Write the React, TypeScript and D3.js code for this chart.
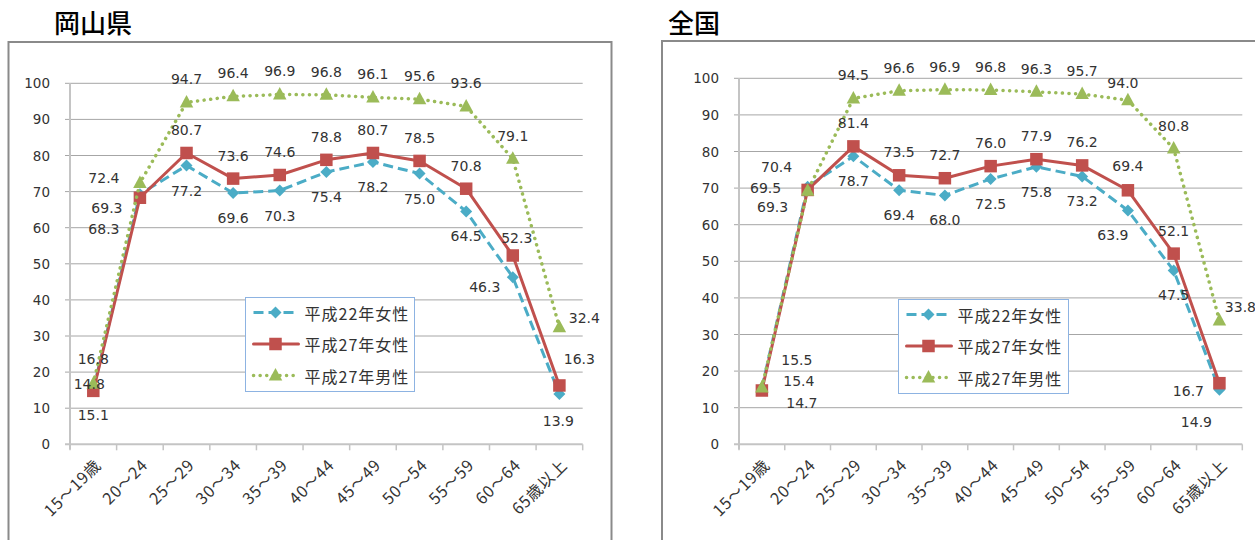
import React from "react";
import * as d3 from "d3";

// Age groups along the x axis
const categories = [
  "15～19歳", "20～24", "25～29", "30～34", "35～39", "40～44",
  "45～49", "50～54", "55～59", "60～64", "65歳以上",
];

// Labour force participation rate (%), 岡山県
const okayamaF22 = [15.1, 69.3, 77.2, 69.6, 70.3, 75.4, 78.2, 75.0, 64.5, 46.3, 13.9];
const okayamaF27 = [14.8, 68.3, 80.7, 73.6, 74.6, 78.8, 80.7, 78.5, 70.8, 52.3, 16.3];
const okayamaM27 = [16.8, 72.4, 94.7, 96.4, 96.9, 96.8, 96.1, 95.6, 93.6, 79.1, 32.4];

// Labour force participation rate (%), 全国
const zenkokuF22 = [15.4, 70.4, 78.7, 69.4, 68.0, 72.5, 75.8, 73.2, 63.9, 47.5, 14.9];
const zenkokuF27 = [14.7, 69.5, 81.4, 73.5, 72.7, 76.0, 77.9, 76.2, 69.4, 52.1, 16.7];
const zenkokuM27 = [15.5, 69.3, 94.5, 96.6, 96.9, 96.8, 96.3, 95.7, 94.0, 80.8, 33.8];

const seriesNames = ["平成22年女性", "平成27年女性", "平成27年男性"];
const yTicks = [0, 10, 20, 30, 40, 50, 60, 70, 80, 90, 100];

const FONT = "'Noto Sans CJK JP', 'Noto Sans', sans-serif";
const NUM_FONT = "'DejaVu Sans', 'Noto Sans CJK JP', sans-serif";
const TEXT = "#333333";

type Style = { color: string; dash: string; cap: "butt" | "round"; width: number; marker: "diamond" | "square" | "triangle" };
const styles: Style[] = [
  { color: "#4bacc6", dash: "10 5", cap: "butt", width: 3, marker: "diamond" },
  { color: "#c0504d", dash: "", cap: "round", width: 3, marker: "square" },
  { color: "#9bbb59", dash: "0.1 6.5", cap: "round", width: 3.5, marker: "triangle" },
];

// Default label offset (text centre relative to point) per series
const defaultOffsets: [number, number][] = [[0, 25], [0, -23], [0, -23]];

type Panel = {
  title: string;
  titleX: number;
  series: number[][];
  frame: { x: number; y: number; w: number; h: number };
  plot: { x0: number; x1: number; yTop: number; yBottom: number };
  legend: { x: number; y: number; w: number; h: number };
  overrides: Record<string, [number, number]>;
};

const panels: Panel[] = [
  {
    title: "岡山県",
    titleX: 54,
    series: [okayamaF22, okayamaF27, okayamaM27],
    frame: { x: 8.5, y: 42, w: 603, h: 520 },
    plot: { x0: 70, x1: 582.7, yTop: 83.3, yBottom: 444.3 },
    legend: { x: 245.5, y: 297.5, w: 169, h: 94 },
    overrides: {
      "0-0": [0, 25], "1-0": [-4, -7], "2-0": [0, -25],
      "0-1": [-33, 14], "1-1": [-36, 31], "2-1": [-36, -5],
      "0-9": [-28, 10], "1-9": [4, -17],
      "0-10": [-1, 27], "1-10": [20, -26], "2-10": [25, -9],
    },
  },
  {
    title: "全国",
    titleX: 668,
    series: [zenkokuF22, zenkokuF27, zenkokuM27],
    frame: { x: 662, y: 41, w: 620, h: 520 },
    plot: { x0: 739, x1: 1242.3, yTop: 78.3, yBottom: 444.3 },
    legend: { x: 898.5, y: 299.5, w: 170, h: 94 },
    overrides: {
      "0-0": [37, -7], "1-0": [40, 13], "2-0": [35, -28],
      "0-1": [-31, -20], "1-1": [-42, -2], "2-1": [-35, 16],
      "0-8": [-15, 25], "1-8": [0, -24], "2-8": [-5, -17],
      "0-10": [-23, 32], "1-10": [-31, 8], "2-10": [21, -14],
    },
  },
];

function Marker({ kind, x, y, color }: { kind: Style["marker"]; x: number; y: number; color: string }) {
  if (kind === "diamond") {
    const r = 6;
    return <path d={`M${x},${y - r}L${x + r},${y}L${x},${y + r}L${x - r},${y}Z`} fill={color} />;
  }
  if (kind === "square") {
    const s = 12.5;
    return <rect x={x - s / 2} y={y - s / 2} width={s} height={s} fill={color} />;
  }
  const h = 12.5, w = 13.5;
  return <path d={`M${x},${y - h * 0.6}L${x + w / 2},${y + h * 0.4}L${x - w / 2},${y + h * 0.4}Z`} fill={color} />;
}

function ChartPanel({ p }: { p: Panel }) {
  const x = d3.scaleBand<string>().domain(categories).range([p.plot.x0, p.plot.x1]);
  const y = d3.scaleLinear().domain([0, 100]).range([p.plot.yBottom, p.plot.yTop]);
  const cx = (c: string) => (x(c) ?? 0) + x.bandwidth() / 2;
  const line = d3.line<number>().x((_, i) => cx(categories[i])).y((v) => y(v));
  const boundaries = [...categories.map((c) => x(c) ?? 0), p.plot.x1];
  const { frame, legend } = p;

  return (
    <g>
      <text x={p.titleX} y={33} fontFamily={FONT} fontSize={26} fontWeight={500} fill="#000">{p.title}</text>
      <rect x={frame.x} y={frame.y} width={frame.w} height={frame.h} fill="#fff" stroke="#8a8a8a" strokeWidth={2} />

      {/* gridlines and y tick labels */}
      {yTicks.map((t) => (
        <g key={t}>
          {t > 0 && (
            <line x1={p.plot.x0 - 5} x2={p.plot.x1} y1={y(t)} y2={y(t)} stroke="#a6a6a6" strokeWidth={1} />
          )}
          <text x={p.plot.x0 - 20} y={y(t)} textAnchor="end" dominantBaseline="central"
            fontFamily={NUM_FONT} fontSize={13.5} fill={TEXT}>{t}</text>
        </g>
      ))}

      {/* axes */}
      <line x1={p.plot.x0} x2={p.plot.x0} y1={p.plot.yTop} y2={p.plot.yBottom + 5} stroke="#c4c4c4" strokeWidth={2} />
      <line x1={p.plot.x0 - 5} x2={p.plot.x1} y1={p.plot.yBottom} y2={p.plot.yBottom} stroke="#c4c4c4" strokeWidth={2} />
      {boundaries.map((bx, i) => (
        <line key={i} x1={bx} x2={bx} y1={p.plot.yBottom} y2={p.plot.yBottom + 6} stroke="#c4c4c4" strokeWidth={1.5} />
      ))}
      {categories.map((c) => (
        <text key={c} transform={`translate(${cx(c) + 4},${p.plot.yBottom + 17}) rotate(-45)`}
          textAnchor="end" dominantBaseline="central" fontFamily={FONT} fontSize={16} letterSpacing={0.8}
          fill={TEXT}>{c}</text>
      ))}

      {/* series lines and markers */}
      {p.series.map((vals, si) => (
        <g key={si}>
          <path d={line(vals) ?? ""} fill="none" stroke={styles[si].color} strokeWidth={styles[si].width}
            strokeDasharray={styles[si].dash} strokeLinecap={styles[si].cap} strokeLinejoin="round" />
          {vals.map((v, i) => (
            <Marker key={i} kind={styles[si].marker} x={cx(categories[i])} y={y(v)} color={styles[si].color} />
          ))}
        </g>
      ))}

      {/* data labels */}
      {p.series.map((vals, si) =>
        vals.map((v, i) => {
          const off = p.overrides[`${si}-${i}`] ?? defaultOffsets[si];
          return (
            <text key={`${si}-${i}`} x={cx(categories[i]) + off[0]} y={y(v) + off[1]} textAnchor="middle"
              dominantBaseline="central" fontFamily={NUM_FONT} fontSize={14} fill={TEXT}>{v.toFixed(1)}</text>
          );
        })
      )}

      {/* legend */}
      <rect x={legend.x} y={legend.y} width={legend.w} height={legend.h} fill="#fff" stroke="#8db3e2" strokeWidth={1} />
      {seriesNames.map((name, si) => {
        const ly = legend.y + 15 + si * 31.5;
        return (
          <g key={name}>
            <line x1={legend.x + 8} x2={legend.x + 53} y1={ly} y2={ly} stroke={styles[si].color}
              strokeWidth={styles[si].width} strokeDasharray={styles[si].dash} strokeLinecap={styles[si].cap} />
            <Marker kind={styles[si].marker} x={legend.x + 30} y={ly} color={styles[si].color} />
            <text x={legend.x + 59} y={ly} dominantBaseline="central" fontFamily={FONT} fontSize={16}
              letterSpacing={1} fill={TEXT}>{name}</text>
          </g>
        );
      })}
    </g>
  );
}

export default function App() {
  return (
    <svg width={1255} height={540} style={{ position: "absolute", left: 0, top: 0, background: "#fff" }}>
      <rect x={0} y={0} width={1255} height={540} fill="#fff" />
      {panels.map((p) => (
        <ChartPanel key={p.title} p={p} />
      ))}
    </svg>
  );
}
